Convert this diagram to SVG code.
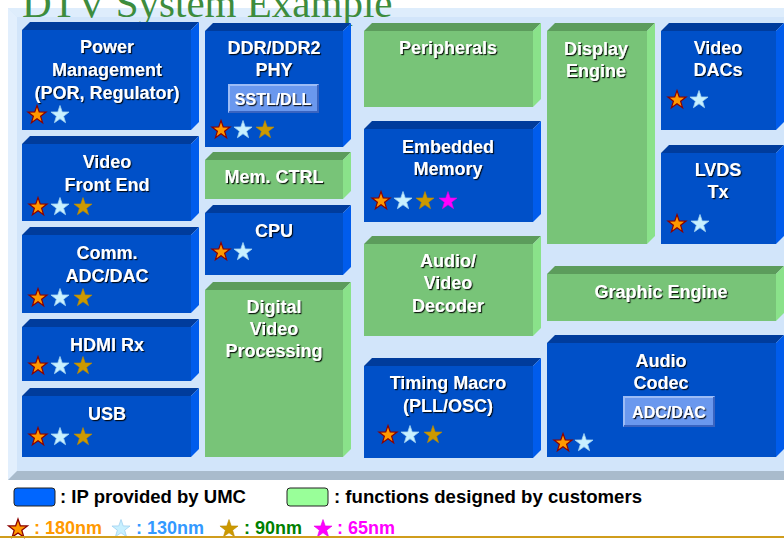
<svg xmlns="http://www.w3.org/2000/svg" xmlns:xlink="http://www.w3.org/1999/xlink" width="784" height="539" viewBox="0 0 784 539">
<style>
.lbl{font-family:"Liberation Sans",Arial,sans-serif;font-weight:bold;font-size:18px;fill:#fff;text-anchor:middle;filter:url(#sh)}
.btxt{font-family:"Liberation Sans",Arial,sans-serif;font-weight:bold;font-size:16px;fill:#fff;text-anchor:middle;filter:url(#sh)}
.bf{fill:#0050c8}.bt{fill:#003c9c}.br{fill:#005cec}
.gf{fill:#78c478}.gt{fill:#5c9c5c}.gr{fill:#8ae28a}
.btn{fill:#6a98ee}.btnl{fill:none;stroke:#9cbcf6;stroke-width:2}.btnd{fill:none;stroke:#3a64c0;stroke-width:2}
.s1{fill:#ff9900;stroke:#8b0000;stroke-width:1.2}
.s2{fill:#c8f0ff;stroke:#9fd0f0;stroke-width:0.8}
.s3{fill:#cc9900;stroke:#b88a00;stroke-width:0.6}
.s4{fill:#ff00ff;stroke:#e000e0;stroke-width:0.6}
.leg{font-family:"Liberation Sans",Arial,sans-serif;font-weight:bold;font-size:18px;fill:#000}
.nm{font-family:"Liberation Sans",Arial,sans-serif;font-weight:bold;font-size:18px}
</style>
<defs>
<filter id="sh" x="-10%" y="-20%" width="130%" height="150%">
<feDropShadow dx="1.2" dy="1.2" stdDeviation="0.3" flood-color="#000" flood-opacity="0.85"/>
</filter>
<polygon id="star" points="0,-9.5 2.23,-3.07 9.04,-2.94 3.61,1.17 5.58,7.69 0,3.8 -5.58,7.69 -3.61,1.17 -9.04,-2.94 -2.23,-3.07"/>
</defs>
<rect x="0" y="0" width="784" height="539" fill="#fff"/>
<!-- panel -->
<g id="panel">
<rect x="8" y="8" width="776" height="472" fill="#d2e5fa"/>
<polygon points="8,8 784,8 784,17 17,17" fill="#deedfc"/>
<polygon points="8,8 17,17 17,471 8,480" fill="#e2effd"/>
<polygon points="8,480 17,471 784,471 784,480" fill="#a9bbcc"/>
</g>
<text x="22" y="17" font-family="'Liberation Serif','Times New Roman',serif" font-size="41" fill="#3d8c3d">DTV System Example</text>

<g id="power">
<rect class="bf" x="22" y="30" width="169" height="100"/>
<path class="bt" d="M22,30 L30,22 L199,22 L191,30 Z"/><path class="br" d="M191,30 L199,22 L199,122 L191,130 Z"/>
<text class="lbl" x="107" y="53">Power</text><text class="lbl" x="107" y="76">Management</text><text class="lbl" x="107" y="99">(POR, Regulator)</text>
<use xlink:href="#star" class="s1" x="37" y="115"/><use xlink:href="#star" class="s2" x="60" y="115"/>
</g>
<g id="vfe">
<rect class="bf" x="22" y="144" width="169" height="77"/>
<path class="bt" d="M22,144 L30,136 L199,136 L191,144 Z"/><path class="br" d="M191,144 L199,136 L199,213 L191,221 Z"/>
<text class="lbl" x="107" y="168">Video</text><text class="lbl" x="107" y="191">Front End</text>
<use xlink:href="#star" class="s1" x="38" y="207"/><use xlink:href="#star" class="s2" x="60" y="207"/><use xlink:href="#star" class="s3" x="83" y="207"/>
</g>
<g id="comm">
<rect class="bf" x="22" y="235" width="169" height="78"/>
<path class="bt" d="M22,235 L30,227 L199,227 L191,235 Z"/><path class="br" d="M191,235 L199,227 L199,305 L191,313 Z"/>
<text class="lbl" x="107" y="259">Comm.</text><text class="lbl" x="107" y="282">ADC/DAC</text>
<use xlink:href="#star" class="s1" x="38" y="298"/><use xlink:href="#star" class="s2" x="60" y="298"/><use xlink:href="#star" class="s3" x="83" y="298"/>
</g>
<g id="hdmi">
<rect class="bf" x="22" y="327" width="169" height="54"/>
<path class="bt" d="M22,327 L30,319 L199,319 L191,327 Z"/><path class="br" d="M191,327 L199,319 L199,373 L191,381 Z"/>
<text class="lbl" x="107" y="351">HDMI Rx</text>
<use xlink:href="#star" class="s1" x="38" y="366"/><use xlink:href="#star" class="s2" x="60" y="366"/><use xlink:href="#star" class="s3" x="83" y="366"/>
</g>
<g id="usb">
<rect class="bf" x="22" y="396" width="169" height="61"/>
<path class="bt" d="M22,396 L30,388 L199,388 L191,396 Z"/><path class="br" d="M191,396 L199,388 L199,449 L191,457 Z"/>
<text class="lbl" x="107" y="420">USB</text>
<use xlink:href="#star" class="s1" x="38" y="437"/><use xlink:href="#star" class="s2" x="60" y="437"/><use xlink:href="#star" class="s3" x="83" y="437"/>
</g>

<g id="ddr">
<rect class="bf" x="205" y="31" width="138" height="116"/>
<path class="bt" d="M205,31 L213,23 L351,23 L343,31 Z"/><path class="br" d="M343,31 L351,23 L351,139 L343,147 Z"/>
<text class="lbl" x="274" y="54">DDR/DDR2</text><text class="lbl" x="274" y="76">PHY</text>
<rect class="btn" x="228" y="84" width="91" height="29"/>
<polyline class="btnl" points="229,112 229,85 318,85"/><polyline class="btnd" points="229,112 318,112 318,85"/>
<text class="btxt" x="273" y="105">SSTL/DLL</text>
<use xlink:href="#star" class="s1" x="221" y="130"/><use xlink:href="#star" class="s2" x="243" y="130"/><use xlink:href="#star" class="s3" x="265" y="130"/>
</g>
<g id="memctrl">
<rect class="gf" x="205" y="160" width="138" height="39"/>
<path class="gt" d="M205,160 L213,152 L351,152 L343,160 Z"/><path class="gr" d="M343,160 L351,152 L351,191 L343,199 Z"/>
<text class="lbl" x="274" y="183">Mem. CTRL</text>
</g>
<g id="cpu">
<rect class="bf" x="205" y="213" width="138" height="62"/>
<path class="bt" d="M205,213 L213,205 L351,205 L343,213 Z"/><path class="br" d="M343,213 L351,205 L351,267 L343,275 Z"/>
<text class="lbl" x="274" y="237">CPU</text>
<use xlink:href="#star" class="s1" x="221" y="252"/><use xlink:href="#star" class="s2" x="243" y="252"/>
</g>
<g id="dvp">
<rect class="gf" x="205" y="290" width="138" height="167"/>
<path class="gt" d="M205,290 L213,282 L351,282 L343,290 Z"/><path class="gr" d="M343,290 L351,282 L351,449 L343,457 Z"/>
<text class="lbl" x="274" y="313">Digital</text><text class="lbl" x="274" y="335">Video</text><text class="lbl" x="274" y="357">Processing</text>
</g>

<g id="periph">
<rect class="gf" x="364" y="31" width="169" height="76"/>
<path class="gt" d="M364,31 L372,23 L541,23 L533,31 Z"/><path class="gr" d="M533,31 L541,23 L541,99 L533,107 Z"/>
<text class="lbl" x="448" y="54">Peripherals</text>
</g>
<g id="embmem">
<rect class="bf" x="364" y="129" width="169" height="93"/>
<path class="bt" d="M364,129 L372,121 L541,121 L533,129 Z"/><path class="br" d="M533,129 L541,121 L541,214 L533,222 Z"/>
<text class="lbl" x="448" y="153">Embedded</text><text class="lbl" x="448" y="175">Memory</text>
<use xlink:href="#star" class="s1" x="381" y="201"/><use xlink:href="#star" class="s2" x="403" y="201"/><use xlink:href="#star" class="s3" x="425" y="201"/><use xlink:href="#star" class="s4" x="448" y="201"/>
</g>
<g id="avdec">
<rect class="gf" x="364" y="244" width="169" height="92"/>
<path class="gt" d="M364,244 L372,236 L541,236 L533,244 Z"/><path class="gr" d="M533,244 L541,236 L541,328 L533,336 Z"/>
<text class="lbl" x="448" y="267">Audio/</text><text class="lbl" x="448" y="289">Video</text><text class="lbl" x="448" y="312">Decoder</text>
</g>
<g id="timing">
<rect class="bf" x="364" y="366" width="169" height="92"/>
<path class="bt" d="M364,366 L372,358 L541,358 L533,366 Z"/><path class="br" d="M533,366 L541,358 L541,450 L533,458 Z"/>
<text class="lbl" x="448" y="389">Timing Macro</text><text class="lbl" x="448" y="412">(PLL/OSC)</text>
<use xlink:href="#star" class="s1" x="388" y="435"/><use xlink:href="#star" class="s2" x="410" y="435"/><use xlink:href="#star" class="s3" x="433" y="435"/>
</g>

<g id="display">
<rect class="gf" x="547" y="31" width="100" height="213"/>
<path class="gt" d="M547,31 L555,23 L655,23 L647,31 Z"/><path class="gr" d="M647,31 L655,23 L655,236 L647,244 Z"/>
<text class="lbl" x="596" y="55">Display</text><text class="lbl" x="596" y="77">Engine</text>
</g>
<g id="vdacs">
<rect class="bf" x="661" y="31" width="115" height="99"/>
<path class="bt" d="M661,31 L669,23 L784,23 L776,31 Z"/><path class="br" d="M776,31 L784,23 L784,122 L776,130 Z"/>
<text class="lbl" x="718" y="54">Video</text><text class="lbl" x="718" y="76">DACs</text>
<use xlink:href="#star" class="s1" x="677" y="100"/><use xlink:href="#star" class="s2" x="699" y="100"/>
</g>
<g id="lvds">
<rect class="bf" x="661" y="153" width="115" height="91"/>
<path class="bt" d="M661,153 L669,145 L784,145 L776,153 Z"/><path class="br" d="M776,153 L784,145 L784,236 L776,244 Z"/>
<text class="lbl" x="718" y="176">LVDS</text><text class="lbl" x="718" y="198">Tx</text>
<use xlink:href="#star" class="s1" x="677" y="224"/><use xlink:href="#star" class="s2" x="700" y="224"/>
</g>
<g id="graphic">
<rect class="gf" x="547" y="274" width="229" height="47"/>
<path class="gt" d="M547,274 L555,266 L784,266 L776,274 Z"/><path class="gr" d="M776,274 L784,266 L784,313 L776,321 Z"/>
<text class="lbl" x="661" y="298">Graphic Engine</text>
</g>
<g id="audiocodec">
<rect class="bf" x="547" y="343" width="229" height="114"/>
<path class="bt" d="M547,343 L555,335 L784,335 L776,343 Z"/><path class="br" d="M776,343 L784,335 L784,449 L776,457 Z"/>
<text class="lbl" x="661" y="367">Audio</text><text class="lbl" x="661" y="389">Codec</text>
<rect class="btn" x="623" y="396" width="92" height="31"/>
<polyline class="btnl" points="624,426 624,397 714,397"/><polyline class="btnd" points="624,426 714,426 714,397"/>
<text class="btxt" x="669" y="418">ADC/DAC</text>
<use xlink:href="#star" class="s1" x="563" y="443"/><use xlink:href="#star" class="s2" x="584" y="443"/>
</g>

<g id="legend">
<rect x="14" y="488" width="41" height="18" rx="3" fill="#0066ff" stroke="#222" stroke-width="1"/>
<text class="leg" x="60" y="503" textLength="186" lengthAdjust="spacingAndGlyphs">: IP provided by UMC</text>
<rect x="287" y="488" width="41" height="18" rx="3" fill="#99ff99" stroke="#222" stroke-width="1"/>
<text class="leg" x="334" y="503" textLength="308" lengthAdjust="spacingAndGlyphs">: functions designed by customers</text>
<use xlink:href="#star" class="s1" x="18" y="529" transform="translate(18,529) scale(1.05) translate(-18,-529)"/>
<text class="nm" x="34" y="534" fill="#ff9900">: 180nm</text>
<use xlink:href="#star" class="s2" x="121" y="529"/>
<text class="nm" x="136" y="534" fill="#3399ff">: 130nm</text>
<use xlink:href="#star" class="s3" x="229" y="529"/>
<text class="nm" x="244" y="534" fill="#008000">: 90nm</text>
<use xlink:href="#star" class="s4" x="323" y="529"/>
<text class="nm" x="337" y="534" fill="#ff00ff">: 65nm</text>
</g>
<line x1="0" y1="537" x2="784" y2="537" stroke="#d09d1c" stroke-width="2"/>
</svg>
